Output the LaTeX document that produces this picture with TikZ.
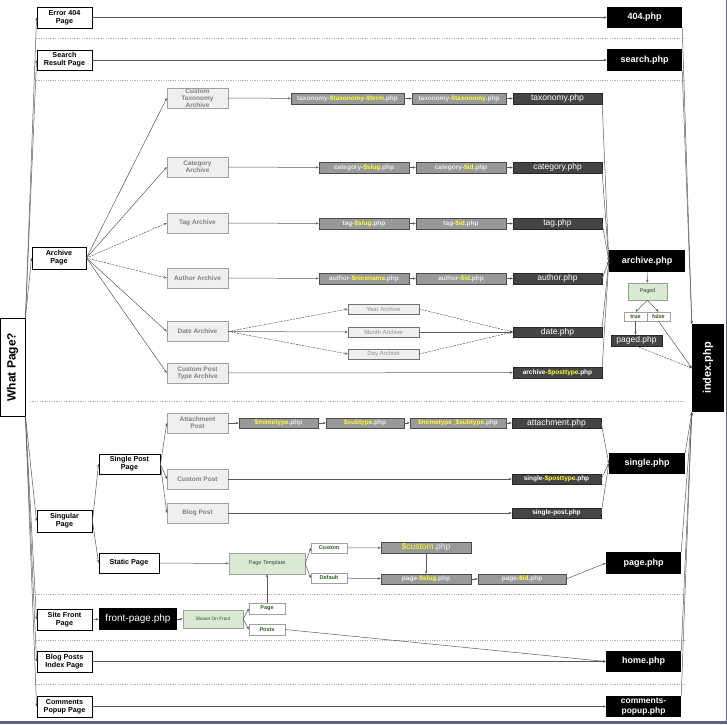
\documentclass[tikz,border=0pt]{standalone}
\usepackage{fontspec}
\setmainfont{Liberation Sans}
\usepackage{graphicx}
\usepackage{xcolor}
\usetikzlibrary{arrows.meta}

\definecolor{phpyellow}{HTML}{FFFF33}
\definecolor{tplfill}{HTML}{999999}
\definecolor{basefill}{HTML}{444444}
\definecolor{kindfill}{HTML}{EFEFEF}
\definecolor{kindtext}{HTML}{808080}
\definecolor{boxedge}{HTML}{A0A0A0}
\definecolor{condfill}{HTML}{D9EAD3}
\definecolor{optgreen}{HTML}{2B5E1A}
\definecolor{framecol}{HTML}{5A667C}

\newcommand{\pv}[1]{\textcolor{phpyellow}{#1}}

\tikzset{
  every node/.style={inner sep=0pt, align=center},
  wh/.style 2 args={minimum width=#1pt, minimum height=#2pt},
  pagebox/.style={draw, line width=0.9pt, fill=white, font=\bfseries\fontsize{7.2}{7.8}\selectfont},
  endbox/.style={fill=black, text=white, font=\bfseries\fontsize{9}{10}\selectfont},
  kindbox/.style={draw=boxedge, fill=kindfill, text=kindtext, font=\bfseries\fontsize{6.5}{7}\selectfont},
  tplbox/.style={draw=black!70, fill=tplfill, text=black!8, font=\bfseries\fontsize{6.5}{7}\selectfont},
  basebox/.style={draw=black!85, fill=basefill, text=white, font=\fontsize{8.5}{9}\selectfont},
  smallbase/.style={basebox, font=\bfseries\fontsize{6.5}{7}\selectfont},
  datebox/.style={draw=black!55, fill=kindfill, text=black!45, font=\fontsize{6}{7}\selectfont},
  condbox/.style={draw=boxedge, fill=condfill, text=black!75, font=\fontsize{5.5}{6}\selectfont},
  optbox/.style={draw=boxedge, fill=white, text=optgreen, font=\bfseries\fontsize{5.5}{6}\selectfont},
  link/.style={draw=black!65, line width=0.5pt, -{Stealth[length=3pt,width=2.4pt]}},
  weak/.style={link, dash pattern=on 2pt off 1pt},
  divider/.style={draw=black!30, line width=0.4pt, dash pattern=on 1.2pt off 1.2pt},
}

\begin{document}
\begin{tikzpicture}[x=1pt, y=-1pt]
\useasboundingbox (0,0) rectangle (727,724);

% section dividers
\draw[divider] (36,38) -- (685,38);
\draw[divider] (36,80) -- (685,80);
\draw[divider] (30,401) -- (685,401);
\draw[divider] (36,594) -- (685,594);
\draw[divider] (36,640) -- (685,640);
\draw[divider] (36,684) -- (685,684);

% page types
\node[pagebox, wh={25}{98}] (wp) at (12.5,367) {\rotatebox{90}{\fontsize{12}{12}\selectfont What Page?}};
\node[pagebox, wh={55}{21}] (e404) at (64.5,17.5) {Error 404\\Page};
\node[pagebox, wh={55}{20}] (search) at (64.5,60) {Search\\Result Page};
\node[pagebox, wh={54}{22}] (archive) at (59,258) {Archive\\Page};
\node[pagebox, wh={55}{22}] (singular) at (64.5,521) {Singular\\Page};
\node[pagebox, wh={61}{20}] (singlepost) at (129.5,464) {Single Post\\Page};
\node[pagebox, wh={60}{20}] (static) at (129,563) {Static Page};
\node[pagebox, wh={55}{21}] (front) at (64.5,619.5) {Site Front\\Page};
\node[pagebox, wh={55}{21}] (blog) at (64.5,661.5) {Blog Posts\\Index Page};
\node[pagebox, wh={55}{21}] (popup) at (64.5,706.5) {Comments\\Popup Page};

% final templates
\node[endbox, wh={75}{21}] (p404) at (644.5,17.5) {404.php};
\node[endbox, wh={75}{22}] (psearch) at (644.5,60) {search.php};
\node[endbox, wh={76}{22}] (parchive) at (647,261) {archive.php};
\node[endbox, wh={76}{21}] (psingle) at (647,463.5) {single.php};
\node[endbox, wh={75}{22}] (ppage) at (643.5,563) {page.php};
\node[endbox, wh={75}{21}] (phome) at (643.5,661.5) {home.php};
\node[endbox, wh={75}{21}, font=\bfseries\fontsize{8.5}{9.5}\selectfont] (ppopup) at (643.5,706.5) {comments-\\popup.php};
\node[endbox, wh={32}{88}] (index) at (708,368) {\rotatebox{90}{\fontsize{11}{11}\selectfont index.php}};

% archive kinds
\node[kindbox, wh={61}{20}] (taxkind) at (197.5,98) {Custom\\Taxonomy\\Archive};
\node[kindbox, wh={61}{20}] (catkind) at (197.5,167) {Category\\Archive};
\node[kindbox, wh={61}{20}] (tagkind) at (197.5,223) {Tag Archive};
\node[kindbox, wh={61}{20}] (authkind) at (197.5,278) {Author Archive};
\node[kindbox, wh={61}{20}] (datekind) at (197.5,331.5) {Date Archive};
\node[kindbox, wh={61}{20}] (cptkind) at (197.5,373) {Custom Post\\Type Archive};
\node[kindbox, wh={61}{20}] (attkind) at (197.5,423) {Attachment\\Post};
\node[kindbox, wh={61}{20}] (cpkind) at (197.5,479) {Custom Post};
\node[kindbox, wh={61}{20}] (bpkind) at (197.5,513) {Blog Post};

% archive templates
\node[tplbox, wh={113}{11}] (taxterm) at (347.5,98.5) {taxonomy-\pv{\$taxonomy-\$term}.php};
\node[tplbox, wh={94}{11}] (taxtax) at (459,98.5) {taxonomy-\pv{\$taxonomy}.php};
\node[basebox, wh={89}{11}] (taxbase) at (557.5,98.5) {taxonomy.php};
\node[tplbox, wh={90}{11}] (catslug) at (364,167.5) {category-\pv{\$slug}.php};
\node[tplbox, wh={90}{11}] (catid) at (461,167.5) {category-\pv{\$id}.php};
\node[basebox, wh={89}{11}] (catbase) at (557.5,167.5) {category.php};
\node[tplbox, wh={90}{11}] (tagslug) at (364,223.5) {tag-\pv{\$slug}.php};
\node[tplbox, wh={90}{11}] (tagid) at (461,223.5) {tag-\pv{\$id}.php};
\node[basebox, wh={89}{11}] (tagbase) at (557.5,223.5) {tag.php};
\node[tplbox, wh={90}{11}] (authnice) at (364,278.5) {author-\pv{\$nicename}.php};
\node[tplbox, wh={90}{11}] (authid) at (461,278.5) {author-\pv{\$id}.php};
\node[basebox, wh={89}{11}] (authbase) at (557.5,278.5) {author.php};
\node[datebox, wh={71}{10}] (year) at (383.5,309) {Year Archive};
\node[datebox, wh={71}{10}] (month) at (383.5,332) {Month Archive};
\node[datebox, wh={71}{10}] (day) at (383.5,354) {Day Archive};
\node[basebox, wh={89}{10}] (datebase) at (557.5,332) {date.php};
\node[smallbase, wh={89}{11}] (cptbase) at (557.5,372.5) {archive-\pv{\$posttype}.php};

% singular templates
\node[tplbox, wh={79}{10}] (mime) at (278.5,423) {\pv{\$mimetype}.php};
\node[tplbox, wh={78}{10}] (subtype) at (365,423) {\pv{\$subtype}.php};
\node[tplbox, wh={96}{10}] (mimesub) at (458,423) {\pv{\$mimetype\_\$subtype}.php};
\node[basebox, wh={89}{10}] (attbase) at (556.5,423) {attachment.php};
\node[smallbase, wh={89}{10}] (singlecpt) at (556.5,479) {single-\pv{\$posttype}.php};
\node[smallbase, wh={89}{10}] (singlebase) at (556.5,513) {single-post.php};

% static and front page
\node[condbox, wh={76}{21}] (tpl) at (267,563.5) {Page Template};
\node[optbox, wh={36}{10}] (custom) at (329,548) {Custom};
\node[optbox, wh={36}{10}] (default) at (329,578) {Default};
\node[tplbox, wh={90}{11}, font=\fontsize{8.5}{9}\selectfont] (customphp) at (426,547.5) {\pv{\$custom}.php};
\node[tplbox, wh={90}{10}] (pageslug) at (426,579) {page-\pv{\$slug}.php};
\node[tplbox, wh={88}{10}] (pageid) at (522,579) {page-\pv{\$id}.php};
\node[endbox, wh={78}{22}, font=\fontsize{10}{10}\selectfont] (frontphp) at (138,619) {front-page.php};
\node[condbox, wh={60}{18}, font=\fontsize{4.8}{5}\selectfont] (shown) at (213,619) {Shown On Front};
\node[optbox, wh={36}{11}] (optpage) at (267,608.5) {Page};
\node[optbox, wh={36}{11}] (optposts) at (267,629.5) {Posts};

% paged
\node[condbox, wh={39}{17}] (paged) at (647.5,291.5) {Paged};
\node[optbox, wh={23}{9}] (ptrue) at (635.5,316.5) {true};
\node[optbox, wh={23}{9}] (pfalse) at (658.5,316.5) {false};
\node[basebox, wh={51}{11}] (pagedphp) at (636.5,340.5) {paged.php};

% what page?
\draw[link] (wp.north east) -- (e404.west);
\draw[link] (wp.north east) -- (search.west);
\draw[link] (wp.north east) -- (archive.west);
\draw[link] (wp.south east) -- (singular.west);
\draw[link] (wp.south east) -- (front.west);
\draw[link] (wp.south east) -- (blog.west);
\draw[link] (wp.south east) -- (popup.west);

\draw[link] (e404) -- (p404);
\draw[link] (search) -- (psearch);
\draw[link] (blog) -- (phome);
\draw[link] (popup) -- (ppopup);

% archive
\draw[link] (archive.east) -- (taxkind.west);
\draw[link] (archive.east) -- (catkind.west);
\draw[weak] (archive.east) -- (tagkind.west);
\draw[weak] (archive.east) -- (authkind.west);
\draw[link] (archive.east) -- (datekind.west);
\draw[link] (archive.east) -- (cptkind.west);

\draw[link] (taxkind) -- (taxterm);
\draw[link] (taxterm) -- (taxtax);
\draw[link] (taxtax) -- (taxbase);
\draw[link] (catkind) -- (catslug);
\draw[link] (catslug) -- (catid);
\draw[link] (catid) -- (catbase);
\draw[link] (tagkind) -- (tagslug);
\draw[link] (tagslug) -- (tagid);
\draw[link] (tagid) -- (tagbase);
\draw[link] (authkind) -- (authnice);
\draw[link] (authnice) -- (authid);
\draw[link] (authid) -- (authbase);

\draw[weak] (datekind.east) -- (year.west);
\draw[link] (datekind.east) -- (month.west);
\draw[weak] (datekind.east) -- (day.west);
\draw[weak] (year.east) -- (datebase.west);
\draw[link] (month) -- (datebase);
\draw[weak] (day.east) -- (datebase.west);
\draw[link] (cptkind) -- (cptbase);

\draw[link] (taxbase.south east) -- (parchive.west);
\draw[link] (catbase.south east) -- (parchive.west);
\draw[link] (tagbase.east) -- (parchive.west);
\draw[link] (authbase.east) -- (parchive.west);
\draw[link] (datebase.north east) -- (parchive.west);
\draw[link] (cptbase.north east) -- (parchive.west);

\draw[link] (parchive) -- (paged);
\draw[link] (paged.south) -- (ptrue.north);
\draw[link] (paged.south) -- (pfalse.north);
\draw[link] (ptrue.south) -- (ptrue.south |- pagedphp.north);
\draw[weak] (pagedphp.south) -- (index.west);
\draw[link] (pfalse.south) -- (index.west);

% singular
\draw[link] (singular.east) -- (singlepost.west);
\draw[link] (singular.east) -- (static.west);
\draw[link] (singlepost.east) -- (attkind.west);
\draw[link] (singlepost.east) -- (cpkind.west);
\draw[link] (singlepost.east) -- (bpkind.west);

\draw[link] (attkind) -- (mime);
\draw[link] (mime) -- (subtype);
\draw[link] (subtype) -- (mimesub);
\draw[link] (mimesub) -- (attbase);
\draw[link] (cpkind) -- (singlecpt);
\draw[link] (bpkind) -- (singlebase);

\draw[link] (attbase.east) -- (psingle.west);
\draw[link] (singlecpt.east) -- (psingle.west);
\draw[link] (singlebase.east) -- (psingle.west);

\draw[link] (static) -- (tpl);
\draw[link] (tpl.east) -- (custom.west);
\draw[link] (tpl.east) -- (default.west);
\draw[link] (custom) -- (customphp);
\draw[link] (default) -- (pageslug);
\draw[link] (customphp) -- (pageslug);
\draw[link] (pageslug) -- (pageid);
\draw[link] (pageid.east) -- (ppage.west);

% front page
\draw[link] (front) -- (frontphp);
\draw[link] (frontphp) -- (shown);
\draw[link] (shown.east) -- (optpage.west);
\draw[link] (shown.east) -- (optposts.west);
\draw[link] (optpage) -- (tpl);
\draw[link] (optposts.east) -- (phome.west);

% fall back to index.php
\draw[link] (p404.south east) -- (index.north west);
\draw[link] (psearch.south east) -- (index.north west);
\draw[link] (psingle.north east) -- (index.south west);
\draw[link] (ppage.north east) -- (index.south west);
\draw[link] (phome.north east) -- (index.south west);
\draw[link] (ppopup.north east) -- (index.south west);

% frame
\fill[framecol] (0,720.5) rectangle (727,724);
\draw[framecol, line width=1pt] (726,0) -- (726,724);
\end{tikzpicture}
\end{document}
